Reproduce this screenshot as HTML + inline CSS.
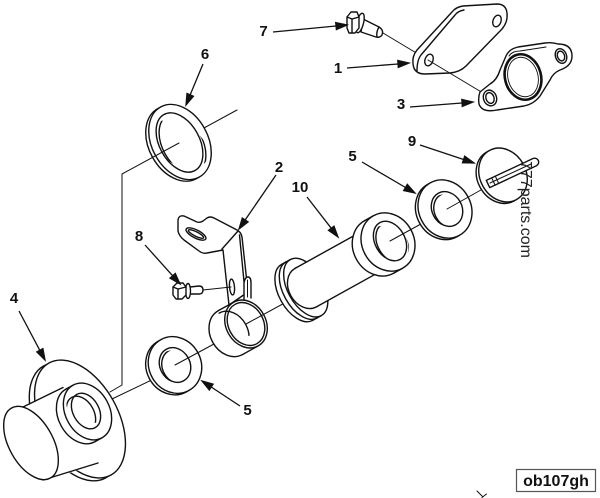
<!DOCTYPE html>
<html><head><meta charset="utf-8"><style>
html,body{margin:0;padding:0;background:#fff;}
svg{display:block;}
text{font-family:"Liberation Sans",Arial,sans-serif;}
</style></head><body>
<svg width="600" height="498" viewBox="0 0 600 498" xmlns="http://www.w3.org/2000/svg">
<defs>
 <clipPath id="cW1"><ellipse cx="175" cy="365" rx="15" ry="18" transform="rotate(-29 175 365)"/></clipPath>
 <clipPath id="cW2"><ellipse cx="447" cy="209" rx="15" ry="18" transform="rotate(-29 447 209)"/></clipPath>
 <clipPath id="cR6"><ellipse cx="179.5" cy="142.5" rx="20" ry="32" transform="rotate(-29 179.5 142.5)"/></clipPath>
 <clipPath id="cCl"><ellipse cx="246" cy="324" rx="17.5" ry="22.5" transform="rotate(-29 246 324)"/></clipPath>
 <clipPath id="cP4"><ellipse cx="86" cy="411" rx="13" ry="19" transform="rotate(-29 86 411)"/></clipPath>
 <clipPath id="cPi"><ellipse cx="390" cy="241" rx="15" ry="21" transform="rotate(-29 390 241)"/></clipPath>
</defs>
<rect width="600" height="498" fill="#fff"/>

<g fill="#fff" stroke="#111" stroke-width="1.4" stroke-linejoin="round" stroke-linecap="round">

<!-- ===== bolt 7 connector (first part) ===== -->
<line x1="383" y1="33" x2="418" y2="54" stroke-width="1"/>

<!-- ===== Plate 1 ===== -->
<path d="M417,50 L452,12 Q456,7 463,6 L497,4 Q506,4 507,13 Q508,22 502,29 L466,66 Q460,72 450,73 L425,74 Q414,74 413,64 Q412,56 417,50 Z"/>
<path fill="none" d="M417,71 Q417,60 421,55 L455,15 Q458,11 464,10"/>
<ellipse cx="429" cy="60" rx="4" ry="6" transform="rotate(20 429 60)"/>
<ellipse cx="497" cy="21" rx="4" ry="6" transform="rotate(20 497 21)"/>
<line x1="428" y1="60" x2="488" y2="96" stroke-width="1"/>

<!-- ===== Gasket 3 ===== -->
<path d="M480,92 L490,84 Q497,80 500,70 L506,56 Q509,49 518,47 L545,43 Q552,42 558,44 Q572,44 572,56 Q572,66 560,70 Q553,73 550,80 L540,96 Q534,104 524,106 L497,110 Q482,113 479,104 Q478,97 480,92 Z"/>
<path fill="none" stroke-width="1" d="M509,56 Q512,51 520,51 L546,47"/>
<ellipse cx="523" cy="77" rx="18" ry="23" transform="rotate(-15 523 77)" fill="none" stroke-width="2.6"/>
<ellipse cx="523" cy="77" rx="15" ry="20" transform="rotate(-15 523 77)" fill="none" stroke-width="0.9"/>
<ellipse cx="490" cy="98" rx="6.5" ry="8" transform="rotate(-20 490 98)"/>
<ellipse cx="490" cy="98" rx="4" ry="5.5" transform="rotate(-20 490 98)"/>
<ellipse cx="561" cy="56" rx="5.5" ry="7.5" transform="rotate(-20 561 56)"/>
<ellipse cx="561" cy="56" rx="3.5" ry="5" transform="rotate(-20 561 56)"/>

<!-- ===== Bolt 7 ===== -->
<path d="M363,19 L379,27 Q384,30 382,35 Q380,38 376,37 L361,32 Z"/>
<path fill="none" d="M379,27 Q376,32 377,37"/>
<ellipse cx="360" cy="23" rx="3.5" ry="10" transform="rotate(15 360 23)"/>
<polygon points="347,17 351,12 357,12 359,17 359,28 355,33 349,33 347,28"/>
<path fill="none" d="M347,17 L352,19 L352,33 M352,19 L359,17"/>

<!-- ===== Ring 6 ===== -->
<line x1="237" y1="110" x2="204" y2="128" stroke-width="1"/>
<ellipse cx="177" cy="143.7" rx="28" ry="40" transform="rotate(-29 177 143.7)"/>
<polygon stroke="none" points="157.6,108.7 160.6,107 199.4,177 196.4,178.7"/>
<ellipse cx="180" cy="142" rx="28" ry="40" transform="rotate(-29 180 142)"/>
<ellipse cx="179.5" cy="142.5" rx="20" ry="32" transform="rotate(-29 179.5 142.5)"/>
<ellipse clip-path="url(#cR6)" fill="none" cx="182.5" cy="144" rx="20" ry="32" transform="rotate(-29 182.5 144)"/>
<line x1="179" y1="143" x2="122" y2="174" stroke-width="1"/>
<polyline fill="none" stroke-width="1" points="122,174 122,385 110,392"/>

<!-- ===== Part 4 ===== -->
<ellipse cx="74.75" cy="421.9" rx="38" ry="64" transform="rotate(-29 74.75 421.9)"/>
<polygon stroke="none" points="43.7,365.9 48.96,363 111.04,475 105.8,477.9"/>
<ellipse cx="80" cy="419" rx="38" ry="64" transform="rotate(-29 80 419)"/>
<polygon stroke="none" points="21,409 63,387 100,463 44,481"/>
<line x1="23" y1="407" x2="63" y2="387.5"/>
<line x1="43" y1="480" x2="98" y2="463"/>
<ellipse cx="31" cy="443" rx="22" ry="40" transform="rotate(-29 31 443)"/>
<ellipse cx="80.5" cy="415.4" rx="22" ry="30" transform="rotate(-29 80.5 415.4)"/>
<polygon stroke="none" points="65.95,389.15 72.95,385.25 102.05,437.75 95.05,441.65"/>
<line x1="65.95" y1="389.15" x2="72.95" y2="385.25"/>
<line x1="95.05" y1="441.65" x2="102.05" y2="437.75"/>
<ellipse cx="87.5" cy="411.5" rx="22" ry="30" transform="rotate(-29 87.5 411.5)"/>
<ellipse cx="86" cy="411" rx="13" ry="19" transform="rotate(-29 86 411)"/>
<ellipse clip-path="url(#cP4)" fill="none" cx="81" cy="414" rx="13" ry="19" transform="rotate(-29 81 414)"/>

<!-- axis seg 1 -->
<line x1="112" y1="399" x2="160" y2="376" stroke-width="1"/>

<!-- ===== Washer 5 (lower) ===== -->
<ellipse cx="172.4" cy="366.5" rx="26" ry="29" transform="rotate(-29 172.4 366.5)"/>
<polygon stroke="none" points="158.3,341.1 160.9,339.6 189.1,390.4 186.5,391.9"/>
<ellipse cx="175" cy="365" rx="26" ry="29" transform="rotate(-29 175 365)"/>
<ellipse cx="175" cy="365" rx="15" ry="18" transform="rotate(-29 175 365)"/>
<ellipse clip-path="url(#cW1)" fill="none" cx="177.5" cy="366.5" rx="15" ry="18" transform="rotate(-29 177.5 366.5)"/>
<line x1="175" y1="365" x2="214" y2="344" stroke-width="1"/>

<!-- ===== Bracket 2 ===== -->
<path d="M178,221 Q178,215 184,216 L197,222 Q200,223 203,221 L207,218 Q210,216 214,218 L237,230 Q241,232 242,237 L248,292 L229,305 L223,250 L207,253 Q203,254 199,251 L184,240 Q179,236 178,231 Z"/>
<path fill="none" d="M222,249 L238,231 M239.5,235 L245,292"/>
<ellipse cx="196" cy="234" rx="11" ry="4" transform="rotate(27 196 234)"/>
<ellipse cx="196" cy="234" rx="8.5" ry="2.2" transform="rotate(27 196 234)"/>
<ellipse cx="232" cy="287" rx="2.5" ry="8" transform="rotate(-5 232 287)"/>

<!-- ===== Bolt 8 ===== -->
<line x1="203" y1="290" x2="231" y2="287" stroke-width="1"/>
<path d="M190,287 L199,286 Q203,286 203,290 Q203,294 199,294 L190,294 Z"/>
<ellipse cx="188" cy="291" rx="2.5" ry="7.5"/>
<polygon points="173,287 177,283 183,283 186,287 186,295 182,299 176,299 173,295"/>
<path fill="none" d="M173,287 L178,289 L178,299 M178,289 L186,287"/>

<!-- ===== Clamp ===== -->
<ellipse cx="230.25" cy="332.7" rx="20" ry="25" transform="rotate(-29 230.25 332.7)"/>
<polygon stroke="none" points="218.1,310.8 233.9,302.1 258.1,345.9 242.4,354.6"/>
<line x1="218.1" y1="310.8" x2="233.9" y2="302.1"/>
<line x1="242.4" y1="354.6" x2="258.1" y2="345.9"/>
<ellipse cx="246" cy="324" rx="20" ry="25" transform="rotate(-29 246 324)"/>
<ellipse cx="246" cy="324" rx="17.5" ry="22.5" transform="rotate(-29 246 324)"/>
<ellipse clip-path="url(#cCl)" fill="none" cx="230.25" cy="332.7" rx="17.5" ry="22.5" transform="rotate(-29 230.25 332.7)"/>
<path d="M244,299 L244,283 Q245,277 248,277 Q251,277 251,283 L251,298"/>
<line x1="247.5" y1="280" x2="247.5" y2="297" stroke-width="1"/>

<!-- axis seg 3 -->
<line x1="246" y1="324" x2="290" y2="300" stroke-width="1"/>

<!-- ===== Pipe 10 ===== -->
<ellipse cx="297" cy="292.44" rx="18" ry="32" transform="rotate(-29 297 292.44)"/>
<polygon stroke="none" points="281.48,264.44 285.86,262 316.9,318 312.52,320.44"/>
<line x1="281.48" y1="264.44" x2="285.86" y2="262"/>
<line x1="312.52" y1="320.44" x2="316.9" y2="318"/>
<ellipse cx="301.375" cy="290" rx="18" ry="32" transform="rotate(-29 301.375 290)"/>
<polygon stroke="none" points="285.86,262 290.23,259.6 321.27,315.6 316.9,318"/>
<line x1="285.86" y1="262" x2="290.23" y2="259.6"/>
<line x1="316.9" y1="318" x2="321.27" y2="315.6"/>
<ellipse cx="305.75" cy="287.6" rx="18" ry="32" transform="rotate(-29 305.75 287.6)"/>
<ellipse cx="305.75" cy="287.6" rx="17" ry="22" transform="rotate(-29 305.75 287.6)"/>
<polygon stroke="none" points="295.08,268.35 368.58,227.6 389.92,266.1 316.42,306.85"/>
<line x1="295.08" y1="268.35" x2="368.58" y2="227.6"/>
<line x1="316.42" y1="306.85" x2="389.92" y2="266.1"/>
<ellipse cx="379.25" cy="246.85" rx="26" ry="30" transform="rotate(-29 379.25 246.85)"/>
<polygon stroke="none" points="364.7,220.6 373.45,215.75 402.55,268.25 393.8,273.1"/>
<line x1="364.7" y1="220.6" x2="373.45" y2="215.75"/>
<line x1="393.8" y1="273.1" x2="402.55" y2="268.25"/>
<ellipse cx="388" cy="242" rx="26" ry="30" transform="rotate(-29 388 242)"/>
<ellipse cx="390" cy="241" rx="15" ry="21" transform="rotate(-29 390 241)"/>
<ellipse clip-path="url(#cPi)" fill="none" cx="392.5" cy="242.5" rx="15" ry="21" transform="rotate(-29 392.5 242.5)"/>

<!-- axis seg 4 -->
<line x1="390" y1="241" x2="430" y2="219" stroke-width="1"/>

<!-- ===== Washer 5 (upper) ===== -->
<ellipse cx="442.4" cy="210.5" rx="26" ry="30" transform="rotate(-29 442.4 210.5)"/>
<polygon stroke="none" points="427.85,184.25 430.45,182.75 459.55,235.25 456.95,236.75"/>
<ellipse cx="445" cy="209" rx="26" ry="30" transform="rotate(-29 445 209)"/>
<ellipse cx="447" cy="209" rx="15" ry="18" transform="rotate(-29 447 209)"/>
<ellipse clip-path="url(#cW2)" fill="none" cx="449.5" cy="210.5" rx="15" ry="18" transform="rotate(-29 449.5 210.5)"/>

<!-- axis seg 5 -->
<line x1="447" y1="209" x2="488" y2="186" stroke-width="1"/>

<!-- ===== Part 9 ===== -->
<ellipse cx="500.4" cy="176.5" rx="23" ry="28" transform="rotate(-29 500.4 176.5)"/>
<polygon stroke="none" points="486.8,152 489.4,150.5 516.6,199.5 514,201"/>
<ellipse cx="503" cy="175" rx="23" ry="28" transform="rotate(-29 503 175)"/>
<path d="M486.3,180.4 L533.3,158.4 A4,4 0 0 1 536.7,165.6 L489.7,187.6 Z"/>
<path fill="none" stroke-width="1" d="M490,183 L531,164 M491.7,177.9 L495.1,185.1 M495.3,176.2 L498.7,183.4"/>

<!-- ===== small mark bottom ===== -->
<path fill="none" stroke-width="1" d="M477,491 L482.5,496.5 M482,497.5 L486.5,494"/>
</g>

<!-- ===== Arrows ===== -->
<g stroke="#111" stroke-width="1.3" fill="#111">
<line x1="273" y1="32" x2="336" y2="26"/><polygon points="347,25 336.4,29.5 335.7,22.6"/>
<line x1="347" y1="68" x2="398" y2="64"/><polygon points="409,63 398.3,67.4 397.8,60.4"/>
<line x1="410" y1="107" x2="462" y2="103"/><polygon points="473,102 462.3,106.4 461.8,99.4"/>
<line x1="203" y1="64" x2="190.2" y2="94.8"/><polygon points="186,105 187,93.5 193.4,96.2"/>
<line x1="276" y1="175" x2="245.2" y2="219.9"/><polygon points="239,229 242.3,218 248.1,221.9"/>
<line x1="307" y1="197" x2="331.3" y2="228.3"/><polygon points="338,237 328.5,230.4 334,226.2"/>
<line x1="362" y1="162" x2="405.5" y2="187.5"/><polygon points="415,193 403.7,190.5 407.3,184.4"/>
<line x1="420" y1="145" x2="463.6" y2="159.5"/><polygon points="474,163 462.5,162.8 464.7,156.2"/>
<line x1="145" y1="245" x2="172.7" y2="275.8"/><polygon points="180,284 170,278.2 175.3,273.5"/>
<line x1="19" y1="311" x2="39.8" y2="350.3"/><polygon points="45,360 36.8,351.9 42.9,348.6"/>
<line x1="240" y1="406" x2="211.2" y2="387"/><polygon points="202,381 213.1,384.1 209.3,390"/>
</g>

<!-- ===== Labels ===== -->
<g font-size="15" font-weight="bold" fill="#111" text-anchor="middle">
<text x="263.5" y="36">7</text>
<text x="338" y="73">1</text>
<text x="401" y="109">3</text>
<text x="205" y="59">6</text>
<text x="279" y="172">2</text>
<text x="412" y="146">9</text>
<text x="352.5" y="161">5</text>
<text x="300" y="192">10</text>
<text x="139" y="241">8</text>
<text x="14" y="303">4</text>
<text x="247.5" y="415">5</text>
</g>

<!-- ===== Watermark ===== -->
<text transform="translate(521,161) rotate(90)" font-size="16" fill="#222">777parts.com</text>

<!-- ===== Ref box ===== -->
<rect x="516.5" y="469.5" width="79" height="22" fill="#fff" stroke="#555" stroke-width="1.2"/>
<text x="556" y="486" font-size="16" font-weight="bold" fill="#111" text-anchor="middle">ob107gh</text>
</svg>
</body></html>
